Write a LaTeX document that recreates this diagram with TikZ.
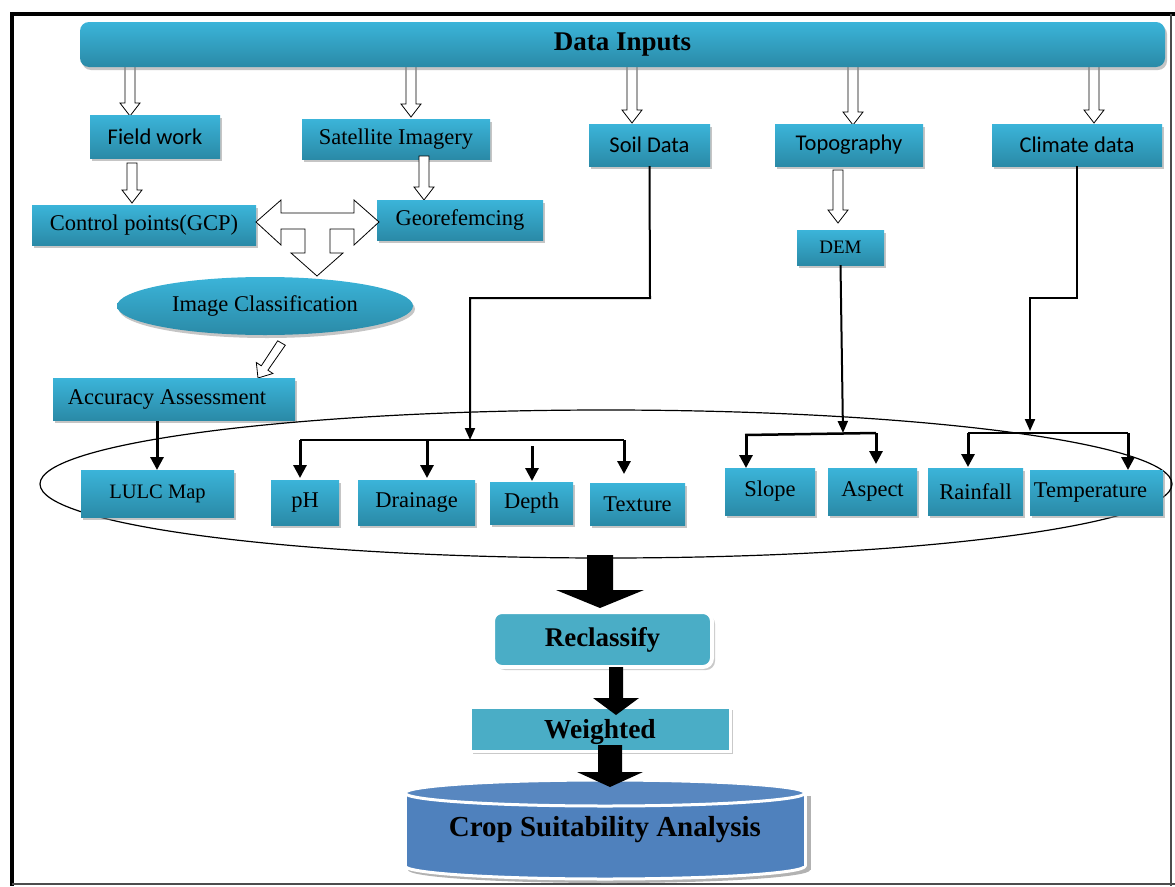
\documentclass[tikz,border=0pt]{standalone}
\usepackage{fontspec}
\setmainfont{Liberation Serif}
\newfontfamily\carl{Carlito}
\usetikzlibrary{arrows.meta,shadows,shapes.geometric}
\definecolor{boxtop}{HTML}{3BB4D9}
\definecolor{boxbot}{HTML}{2A8AA7}
\definecolor{flatbox}{HTML}{4AADC6}
\definecolor{cylfill}{HTML}{4F81BD}
\newcommand\harr[3]{% x, y start, y end : hollow down arrow
  \draw[hollow] (#1-5,#2) -- (#1-5,#3-13) -- (#1-10,#3-13) -- (#1,#3) -- (#1+10,#3-13) -- (#1+5,#3-13) -- (#1+5,#2) -- cycle;}
\newcommand\blockarr[6]{% x, y start, shaft half, head base y, head half, tip y
  \fill[black] (#1-#3,#2) -- (#1-#3,#4) -- (#1-#5,#4) -- (#1,#6) -- (#1+#5,#4) -- (#1+#3,#4) -- (#1+#3,#2) -- cycle;}
\tikzset{
  box/.style={rectangle, inner sep=0pt, top color=boxtop, bottom color=boxbot, draw=none,
    drop shadow={shadow xshift=2pt, shadow yshift=-3pt, fill=black!45, opacity=0.5},
    font=\fontsize{22.5}{26}\selectfont},
  sbox/.style={box, font=\carl\fontsize{22.5}{26}\selectfont},
  rowbox/.style={box, font=\fontsize{22.5}{26}\selectfont},
  hollow/.style={fill=white, draw=black, line width=0.8pt},
  conn/.style={draw=black, line width=2pt},
  tip/.style={line width=3pt, -{Triangle[length=13pt,width=13pt]}},
  ctip/.style={line width=2pt, -{Triangle[length=12pt,width=10pt]}},
  flat/.style={rectangle, inner sep=0pt, fill=flatbox, draw=white, line width=4pt,
    drop shadow={shadow xshift=3pt, shadow yshift=-3pt, fill=black!35, opacity=0.6},
    font=\bfseries\fontsize{27}{31}\selectfont},
}
\begin{document}
\begin{tikzpicture}[x=1pt,y=-1pt]
\useasboundingbox (0,0) rectangle (1175,886);
\fill[white] (0,0) rectangle (1175,886);
% frame
\draw[line width=4pt] (10,14) -- (1175,14);
\draw[line width=4pt] (12,14) -- (12,886);
\draw[line width=1.5pt, black!70] (1171,14) -- (1171,886);
\draw[line width=1.5pt, black!70] (12,884) -- (1175,884);

% hollow arrows from the top bar
\harr{130}{60}{116}
\harr{411}{60}{117}
\harr{632}{60}{123}
\harr{853}{60}{125}
\harr{1094}{60}{123}

% top bar
\node[box, rounded corners=9pt, minimum width=1085, minimum height=45,
      font=\bfseries\fontsize{27}{31}\selectfont] (top) at (622.5,44.5) {Data Inputs};

% second row
\node[sbox, minimum width=130, minimum height=43] (fw) at (155,136.5) {Field work};
\node[box, minimum width=188, minimum height=40] (sat) at (396,139) {Satellite Imagery};
\node[sbox, minimum width=121, minimum height=42] (soil) at (649.5,145) {Soil Data};
\node[sbox, minimum width=148, minimum height=42] (topo) at (849,145) {Topography};
\node[sbox, minimum width=170, minimum height=42] (clim) at (1077,145) {Climate data};

\harr{132}{163}{203}
\harr{424}{156}{200}
\harr{838}{170}{223}

\node[box, minimum width=224, minimum height=40] (gcp) at (144,225) {Control points(GCP)};
\node[box, minimum width=166, minimum height=40] (geo) at (460,220) {Georefemcing};
\node[box, minimum width=87, minimum height=35, font=\fontsize{19}{22}\selectfont] (dem) at (840.5,247.5) {DEM};

% double / T hollow arrow
\draw[hollow] (256,222) -- (281,200) -- (281,213) -- (354,213) -- (354,200) -- (379,222)
  -- (354,245) -- (354,229) -- (330,229) -- (330,253) -- (343,253) -- (317,276)
  -- (291,253) -- (305,253) -- (305,229) -- (281,229) -- (281,245) -- cycle;

\node[box, ellipse, minimum width=296, minimum height=58] (imgc) at (265,306) {Image Classification};

% diagonal hollow arrow
\draw[hollow] (285.3,345.2) -- (267.9,370.2) -- (272.9,373.5) -- (258,378) -- (256.3,362.5)
  -- (261.3,365.8) -- (277.7,340.8) -- cycle;

\node[box, minimum width=242, minimum height=42] (acc) at (174,399) {\hspace*{-14pt}Accuracy Assessment};

% big grouping ellipse
\node[draw, ellipse, line width=1.2pt, minimum width=1132, minimum height=148, inner sep=0pt] (grp) at (606,484) {};

% bottom row
\node[box, minimum width=153, minimum height=47, font=\fontsize{20.5}{24}\selectfont] (lulc) at (157.5,493.5) {LULC Map};
\node[rowbox, minimum width=68, minimum height=45] (ph) at (305,502.5) {pH};
\node[rowbox, minimum width=117, minimum height=45] (drain) at (416.5,502.5) {Drainage};
\node[rowbox, minimum width=83, minimum height=42] (depth) at (531.5,503) {Depth};
\node[rowbox, minimum width=95, minimum height=42] (tex) at (637.5,504) {Texture};
\node[rowbox, minimum width=90, minimum height=47] (slope) at (770,491.5) {Slope};
\node[rowbox, minimum width=89, minimum height=47] (aspect) at (872.5,491.5) {Aspect};
\node[rowbox, minimum width=95, minimum height=47] (rain) at (975.5,491.5) {Rainfall};
\node[rowbox, minimum width=133, minimum height=45] (temp) at (1096.5,492.5) {\hspace*{-12pt}Temperature};

% accuracy -> LULC
\draw[tip] (157,421) -- (157,470);

% soil connectors
\coordinate (sbr) at (470,440);
\draw[conn, ctip] (soil.south) -- (650,298) -- (470,298) -- (sbr);
\draw[conn, line width=2.5pt] (300,440) -- (624,440);
\draw[tip] (300,440) -- (300,478);
\draw[tip] (427,440) -- (427,478);
\draw[tip] (532,446) -- (532,481);
\draw[tip] (624,440) -- (624,474);

% DEM connectors
\draw[conn, ctip] (dem.south) -- (843,433);
\draw[conn, line width=2.5pt] (745,435) -- (876,433);
\draw[tip] (746,435) -- (746,468);
\draw[tip] (876,433) -- (876,464);

% climate connectors
\draw[conn, ctip] (clim.south) -- (1077,298) -- (1030,298) -- (1030,431);
\draw[conn, line width=2.5pt] (968,433) -- (1128,433);
\draw[tip] (968,433) -- (968,467);
\draw[tip] (1128,433) -- (1128,470);

% big block arrows and the final stages
\blockarr{600}{555}{13}{590}{44}{608}
\node[flat, rounded corners=9pt, minimum width=219, minimum height=55] (recl) at (602.5,639.5) {Reclassify};
\node[flat, line width=3pt, minimum width=260, minimum height=44] (wt) at (600,729) {};
\node[font=\bfseries\fontsize{27.5}{31}\selectfont] (wtl) at (600,732) {Weighted};
\blockarr{616}{667}{7}{698}{23}{715}

% cylinder
\fill[black!30] (409,796) -- (409,870) -- (811,870) -- (811,796) -- cycle;
\fill[black!30] (609,870) ellipse [x radius=201, y radius=13];
\fill[cylfill] (605,866) ellipse [x radius=200, y radius=13];
\fill[cylfill] (405,793) rectangle (805,866);
\begin{scope}
\clip (395,866) rectangle (815,886);
\draw[white, line width=3pt] (605,866) ellipse [x radius=200, y radius=13];
\end{scope}
\draw[white, line width=3pt] (405,793) -- (405,866);
\draw[white, line width=3pt] (805,793) -- (805,866);
\fill[cylfill!95!white, draw=white, line width=3pt] (605,793) ellipse [x radius=200, y radius=13];
\node[font=\bfseries\fontsize{29}{34}\selectfont] (crop) at (605,830) {Crop Suitability Analysis};
\blockarr{610}{745}{12}{772}{33}{787}
\end{tikzpicture}
\end{document}
